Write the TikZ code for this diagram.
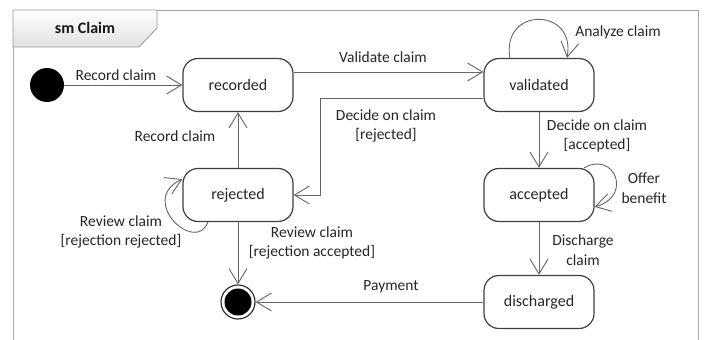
\documentclass[tikz,border=0pt]{standalone}
\usepackage{fontspec}
\setmainfont{Carlito}
\usetikzlibrary{arrows.meta,calc}
\begin{document}
\begin{tikzpicture}[x=1pt,y=1pt,
  stbox/.style={draw=black!75, line width=1.2pt, rounded corners=15pt,
    minimum width=110pt, minimum height=53pt, fill=white,
    font=\fontsize{16}{19}\selectfont, text=black!85},
  tr/.style={draw=black!60, line width=0.9pt,
    -{Straight Barb[length=15pt,width=18pt]}},
  lbl/.style={font=\fontsize{15.5}{19.5}\selectfont, text=black!85,
    align=center, inner sep=0pt},
]
\useasboundingbox (0,0) rectangle (705,-340);
\fill[white] (0,0) rectangle (705,-340);

% diagram frame (open at the bottom) and its name tab
\begin{scope}
  \clip (0,0) rectangle (705,-340);
  \draw[black!35, line width=1pt] (13,-10) rectangle (698,-360);
\end{scope}
\shade[top color=white, bottom color=black!12, draw=black!40, line width=0.8pt]
  (13,-10) -- (157,-10) -- (157,-28) -- (139,-47) -- (13,-47) -- cycle;
\node[font=\bfseries\fontsize{16}{19}\selectfont, text=black!90] (title) at (85,-28) {sm Claim};

% states
\node[stbox] (recorded)   at (238,-85)  {recorded};
\node[stbox] (validated)  at (539,-85)  {validated};
\node[stbox] (rejected)   at (238,-195) {rejected};
\node[stbox] (accepted)   at (539,-195) {accepted};
\node[stbox] (discharged) at (539,-302) {discharged};

% pseudo states
\node[circle, fill=black, minimum size=34pt, inner sep=0pt] (init) at (47,-85) {};
\node[circle, draw=black!80, fill=white, line width=1.2pt, minimum size=34pt, inner sep=0pt] (final) at (238,-302) {};
\node[circle, fill=black, minimum size=27pt, inner sep=0pt] (finaldot) at (final) {};

% transitions
\draw[tr] (init) -- (recorded);
\draw[tr] ($(recorded.east)+(0,13)$) -- ($(validated.west)+(0,13)$);
\draw[tr] ($(validated.west)+(0,-13)$) -- ++(-163,0) |- (rejected.east);
\draw[tr] (rejected) -- (recorded);
\draw[tr] (validated) -- (accepted);
\draw[tr] (accepted) -- (discharged);
\draw[tr] (discharged) -- (final);
\draw[tr] (rejected) -- (final);

% self transitions
\draw[tr] (validated.137) .. controls +(100:52) and +(80:52) .. (validated.44.5);
\draw[tr] (accepted.31.6) .. controls +(30:35) and +(15:40) .. (accepted.-12.3);
\draw[tr] (rejected.222.4) .. controls +(250:35) and +(205:50) .. (rejected.164.7);

% labels
\node[lbl] (l1)  at (116,-75)  {Record claim};
\node[lbl] (l2)  at (383,-57)  {Validate claim};
\node[lbl] (l3)  at (386,-126) {Decide on claim\\{}[rejected]};
\node[lbl] (l4)  at (175,-136) {Record claim};
\node[lbl] (l5)  at (618,-32)  {Analyze claim};
\node[lbl] (l6)  at (597,-136) {Decide on claim\\{}[accepted]};
\node[lbl] (l7)  at (644,-188) {Offer\\benefit};
\node[lbl] (l8)  at (583,-250) {Discharge\\claim};
\node[lbl] (l9)  at (391,-287) {Payment};
\node[lbl] (l10) at (312,-243) {Review claim\\{}[rejection accepted]};
\node[lbl] (l11) at (121,-232) {Review claim\\{}[rejection rejected]};
\end{tikzpicture}
\end{document}
